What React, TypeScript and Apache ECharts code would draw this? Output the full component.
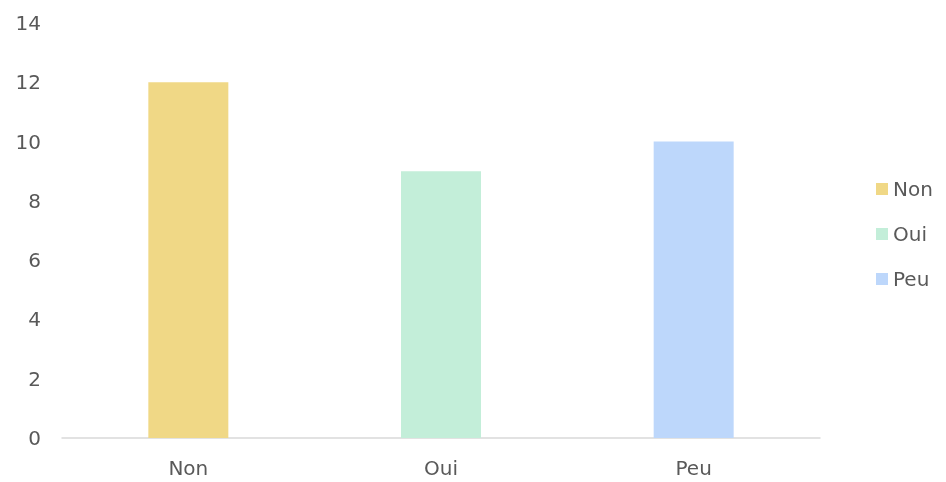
import React, { useEffect, useRef } from "react";
import * as echarts from "echarts";

const categories = ["Non", "Oui", "Peu"];
const seriesNames = ["Non", "Oui", "Peu"];
const values = [12, 9, 10];
const colors = ["#F0D886", "#C3EED9", "#BDD7FB"];
const yTicks = { min: 0, max: 14, interval: 2 };

export default function App() {
  const ref = useRef<HTMLDivElement>(null);
  useEffect(() => {
    if (!ref.current) return;
    const chart = echarts.init(ref.current, null, { renderer: "svg" });
    const font = "'Century Gothic', 'URW Gothic', 'DejaVu Sans', sans-serif";
    chart.setOption({
      animation: false,
      textStyle: { fontFamily: font },
      grid: { left: 62, right: 126, top: 23, bottom: 44 },
      legend: {
        orient: "vertical",
        left: 871,
        top: 174,
        icon: "rect",
        itemWidth: 12,
        itemHeight: 12,
        itemGap: 25,
        textStyle: { fontSize: 20, color: "#595959", fontFamily: font },
        data: seriesNames,
      },
      xAxis: {
        type: "category",
        data: categories,
        axisTick: { show: false },
        axisLine: { lineStyle: { color: "#D9D9D9", width: 1.5 } },
        axisLabel: { fontSize: 20, color: "#595959", margin: 20, fontFamily: font },
      },
      yAxis: {
        type: "value",
        min: yTicks.min,
        max: yTicks.max,
        interval: yTicks.interval,
        splitLine: { show: false },
        axisLine: { show: false },
        axisTick: { show: false },
        axisLabel: { fontSize: 20, color: "#595959", margin: 21, fontFamily: font },
      },
      series: seriesNames.map((name, i) => ({
        name,
        type: "bar",
        stack: "all",
        barWidth: 80,
        itemStyle: { color: colors[i] },
        data: categories.map((_, j) => (j === i ? values[i] : "-")),
      })),
    });
    return () => chart.dispose();
  }, []);
  return (
    <div
      ref={ref}
      style={{ position: "fixed", left: 0, top: 0, width: 946, height: 482 }}
    />
  );
}
